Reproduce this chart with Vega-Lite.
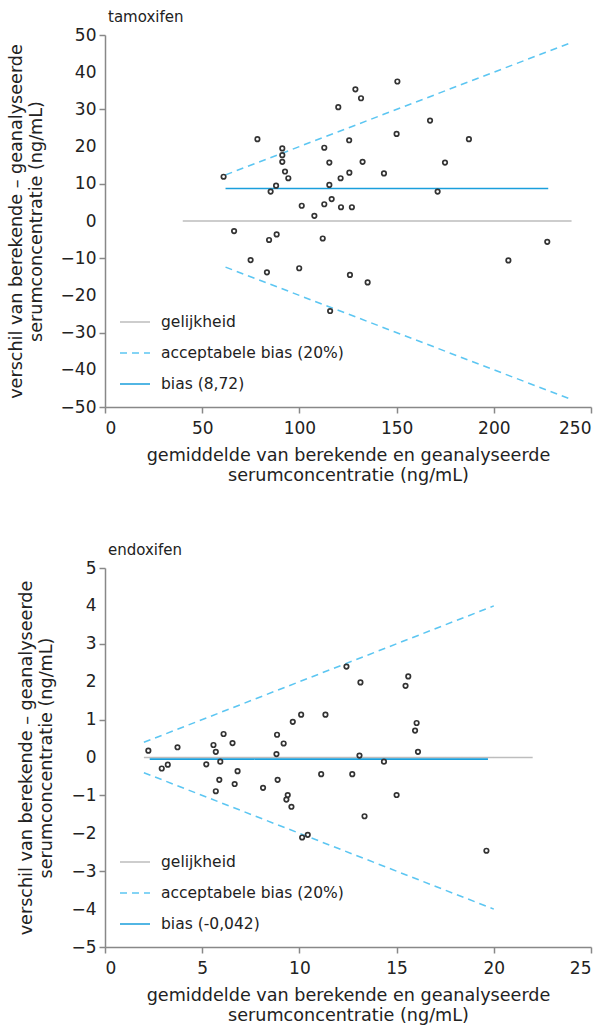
{
  "$schema": "https://vega.github.io/schema/vega-lite/v6.json",
  "background": "white",
  "padding": {"left": 7, "top": 10, "right": 10, "bottom": 2},
  "spacing": 59,
  "config": {
    "font": "DejaVu Sans",
    "view": {"stroke": null},
    "axis": {
      "labelFont": "DejaVu Sans", "labelFontSize": 17, "labelColor": "#222", "labelOverlap": false,
      "titleFont": "DejaVu Sans", "titleFontSize": 17.6, "titleFontWeight": "normal", "titleColor": "#222", "titleLineHeight": 20,
      "domainColor": "#888", "domainWidth": 1.5, "tickColor": "#888", "tickWidth": 1.5, "tickSize": 6,
      "grid": false, "labelPadding": 3
    },
    "axisX": {"titlePadding": 10, "labelPadding": 7},
    "axisY": {"titlePadding": 15},
    "legend": {
      "labelFont": "DejaVu Sans", "labelFontSize": 15.5, "labelColor": "#222", "labelLimit": 400,
      "symbolType": "stroke", "symbolSize": 900, "labelOffset": 10, "rowPadding": 6, "padding": 0, "offset": 14
    },
    "title": {"font": "DejaVu Sans", "fontSize": 15, "fontWeight": "normal", "color": "#222", "anchor": "start", "frame": "group", "offset": 1, "dx": 3}
  },
  "datasets": {
    "tam": [
      {"x": 61, "y": 11.9}, {"x": 78.4, "y": 22.0}, {"x": 91.2, "y": 19.5}, {"x": 91.2, "y": 17.7},
      {"x": 91.2, "y": 15.9}, {"x": 92.6, "y": 13.3}, {"x": 94.3, "y": 11.5}, {"x": 88.0, "y": 9.5},
      {"x": 85.2, "y": 7.9}, {"x": 112.8, "y": 19.7}, {"x": 115.4, "y": 15.7}, {"x": 115.4, "y": 9.7},
      {"x": 120.0, "y": 30.6}, {"x": 121.2, "y": 11.5}, {"x": 125.7, "y": 13.0}, {"x": 125.6, "y": 21.7},
      {"x": 128.8, "y": 35.4}, {"x": 131.7, "y": 33.0}, {"x": 150.4, "y": 37.5}, {"x": 150.0, "y": 23.4},
      {"x": 167.2, "y": 27.0}, {"x": 187.2, "y": 22.0}, {"x": 132.5, "y": 15.9}, {"x": 174.9, "y": 15.7},
      {"x": 143.5, "y": 12.8}, {"x": 171.1, "y": 7.9}, {"x": 101.2, "y": 4.1}, {"x": 112.8, "y": 4.5},
      {"x": 116.6, "y": 5.9}, {"x": 121.4, "y": 3.7}, {"x": 127.0, "y": 3.7}, {"x": 107.7, "y": 1.4},
      {"x": 66.4, "y": -2.7}, {"x": 84.4, "y": -5.1}, {"x": 88.3, "y": -3.6}, {"x": 74.9, "y": -10.5},
      {"x": 83.3, "y": -13.8}, {"x": 99.9, "y": -12.7}, {"x": 112.0, "y": -4.7}, {"x": 115.8, "y": -24.2},
      {"x": 126.0, "y": -14.5}, {"x": 135.1, "y": -16.5}, {"x": 207.5, "y": -10.6}, {"x": 227.5, "y": -5.6}
    ],
    "tamLines": [
      {"serie": "gelijkheid", "part": "g", "x": 40, "y": 0},
      {"serie": "gelijkheid", "part": "g", "x": 240, "y": 0},
      {"serie": "acceptabele bias (20%)", "part": "up", "x": 62, "y": 12.4},
      {"serie": "acceptabele bias (20%)", "part": "up", "x": 240, "y": 48},
      {"serie": "acceptabele bias (20%)", "part": "low", "x": 62, "y": -12.4},
      {"serie": "acceptabele bias (20%)", "part": "low", "x": 240, "y": -48},
      {"serie": "bias (8,72)", "part": "b", "x": 62, "y": 8.72},
      {"serie": "bias (8,72)", "part": "b", "x": 228, "y": 8.72}
    ],
    "endo": [
      {"x": 2.23, "y": 0.18}, {"x": 3.73, "y": 0.27}, {"x": 5.58, "y": 0.33}, {"x": 5.70, "y": 0.15},
      {"x": 6.10, "y": 0.62}, {"x": 6.56, "y": 0.38}, {"x": 8.82, "y": 0.09}, {"x": 8.85, "y": 0.60},
      {"x": 9.19, "y": 0.37}, {"x": 9.66, "y": 0.94}, {"x": 10.09, "y": 1.13}, {"x": 11.34, "y": 1.13},
      {"x": 12.42, "y": 2.40}, {"x": 2.92, "y": -0.29}, {"x": 3.23, "y": -0.19}, {"x": 5.21, "y": -0.18},
      {"x": 5.93, "y": -0.11}, {"x": 13.14, "y": 1.98}, {"x": 15.60, "y": 2.14}, {"x": 15.46, "y": 1.89},
      {"x": 16.03, "y": 0.91}, {"x": 15.95, "y": 0.71}, {"x": 16.10, "y": 0.15}, {"x": 13.09, "y": 0.05},
      {"x": 14.35, "y": -0.11}, {"x": 6.82, "y": -0.36}, {"x": 5.88, "y": -0.59}, {"x": 5.70, "y": -0.89},
      {"x": 6.67, "y": -0.70}, {"x": 8.13, "y": -0.80}, {"x": 8.88, "y": -0.59}, {"x": 9.40, "y": -0.99},
      {"x": 9.33, "y": -1.11}, {"x": 9.59, "y": -1.30}, {"x": 10.14, "y": -2.11}, {"x": 10.43, "y": -2.04},
      {"x": 11.12, "y": -0.44}, {"x": 12.72, "y": -0.44}, {"x": 15.0, "y": -0.99}, {"x": 13.35, "y": -1.55},
      {"x": 19.62, "y": -2.46}
    ],
    "endoLines": [
      {"serie": "gelijkheid", "part": "g", "x": 2, "y": 0},
      {"serie": "gelijkheid", "part": "g", "x": 22, "y": 0},
      {"serie": "acceptabele bias (20%)", "part": "up", "x": 2, "y": 0.4},
      {"serie": "acceptabele bias (20%)", "part": "up", "x": 20, "y": 4},
      {"serie": "acceptabele bias (20%)", "part": "low", "x": 2, "y": -0.4},
      {"serie": "acceptabele bias (20%)", "part": "low", "x": 20, "y": -4},
      {"serie": "bias (-0,042)", "part": "b", "x": 2.3, "y": -0.042},
      {"serie": "bias (-0,042)", "part": "b", "x": 19.7, "y": -0.042}
    ]
  },
  "vconcat": [
    {
      "width": 486, "height": 372,
      "title": {"text": "tamoxifen"},
      "layer": [
        {
          "data": {"name": "tamLines"},
          "mark": {"type": "line"},
          "encoding": {
            "x": {"field": "x", "type": "quantitative", "scale": {"domain": [0, 250], "nice": false},
              "axis": {"values": [0, 50, 100, 150, 200, 250], "tickCount": 20, "format": "d", "title": ["gemiddelde van berekende en geanalyseerde", "serumconcentratie (ng/mL)"]}},
            "y": {"field": "y", "type": "quantitative", "scale": {"domain": [-50, 50], "nice": false},
              "axis": {"values": [-50, -40, -30, -20, -10, 0, 10, 20, 30, 40, 50], "tickCount": 20, "format": "d",
                "tickColor": {"condition": {"test": "abs(datum.value) % 20 == 10", "value": "#888"}, "value": "rgba(0,0,0,0)"},
                "title": ["verschil van berekende – geanalyseerde", "serumconcentratie (ng/mL)"]}},
            "color": {"field": "serie", "type": "nominal",
              "scale": {"domain": ["gelijkheid", "acceptabele bias (20%)", "bias (8,72)"], "range": ["#bdbdbd", "#5cc6f2", "#1a9fdc"]},
              "legend": {"title": null, "orient": "bottom-left"}},
            "strokeDash": {"field": "serie", "type": "nominal",
              "scale": {"domain": ["gelijkheid", "acceptabele bias (20%)", "bias (8,72)"], "range": [[1, 0], [7, 5], [1, 0]]},
              "legend": {"title": null, "orient": "bottom-left"}},
            "strokeWidth": {"field": "serie", "type": "nominal",
              "scale": {"domain": ["gelijkheid", "acceptabele bias (20%)", "bias (8,72)"], "range": [1.5, 1.6, 3.5]},
              "legend": {"title": null, "orient": "bottom-left"}},
            "detail": {"field": "part", "type": "nominal"}
          }
        },
        {
          "data": {"name": "tam"},
          "mark": {"type": "point", "shape": "circle", "filled": false, "stroke": "#333", "strokeWidth": 1.7, "size": 20, "opacity": 1},
          "encoding": {
            "x": {"field": "x", "type": "quantitative"},
            "y": {"field": "y", "type": "quantitative"}
          }
        }
      ]
    },
    {
      "width": 486, "height": 379,
      "title": {"text": "endoxifen"},
      "layer": [
        {
          "data": {"name": "endoLines"},
          "mark": {"type": "line"},
          "encoding": {
            "x": {"field": "x", "type": "quantitative", "scale": {"domain": [0, 25], "nice": false},
              "axis": {"values": [0, 5, 10, 15, 20, 25], "tickCount": 20, "format": "d", "title": ["gemiddelde van berekende en geanalyseerde", "serumconcentratie (ng/mL)"]}},
            "y": {"field": "y", "type": "quantitative", "scale": {"domain": [-5, 5], "nice": false},
              "axis": {"values": [-5, -4, -3, -2, -1, 0, 1, 2, 3, 4, 5], "tickCount": 20, "format": "d",
                "tickColor": {"condition": {"test": "abs(datum.value) % 2 == 1", "value": "#888"}, "value": "rgba(0,0,0,0)"},
                "title": ["verschil van berekende – geanalyseerde", "serumconcentratie (ng/mL)"]}},
            "color": {"field": "serie", "type": "nominal",
              "scale": {"domain": ["gelijkheid", "acceptabele bias (20%)", "bias (-0,042)"], "range": ["#bdbdbd", "#5cc6f2", "#1a9fdc"]},
              "legend": {"title": null, "orient": "bottom-left"}},
            "strokeDash": {"field": "serie", "type": "nominal",
              "scale": {"domain": ["gelijkheid", "acceptabele bias (20%)", "bias (-0,042)"], "range": [[1, 0], [7, 5], [1, 0]]},
              "legend": {"title": null, "orient": "bottom-left"}},
            "strokeWidth": {"field": "serie", "type": "nominal",
              "scale": {"domain": ["gelijkheid", "acceptabele bias (20%)", "bias (-0,042)"], "range": [1.5, 1.6, 3.5]},
              "legend": {"title": null, "orient": "bottom-left"}},
            "detail": {"field": "part", "type": "nominal"}
          }
        },
        {
          "data": {"name": "endo"},
          "mark": {"type": "point", "shape": "circle", "filled": false, "stroke": "#333", "strokeWidth": 1.7, "size": 20, "opacity": 1},
          "encoding": {
            "x": {"field": "x", "type": "quantitative"},
            "y": {"field": "y", "type": "quantitative"}
          }
        }
      ]
    }
  ],
  "resolve": {
    "scale": {"color": "independent", "strokeDash": "independent", "strokeWidth": "independent"},
    "legend": {"color": "independent", "strokeDash": "independent", "strokeWidth": "independent"}
  }
}
